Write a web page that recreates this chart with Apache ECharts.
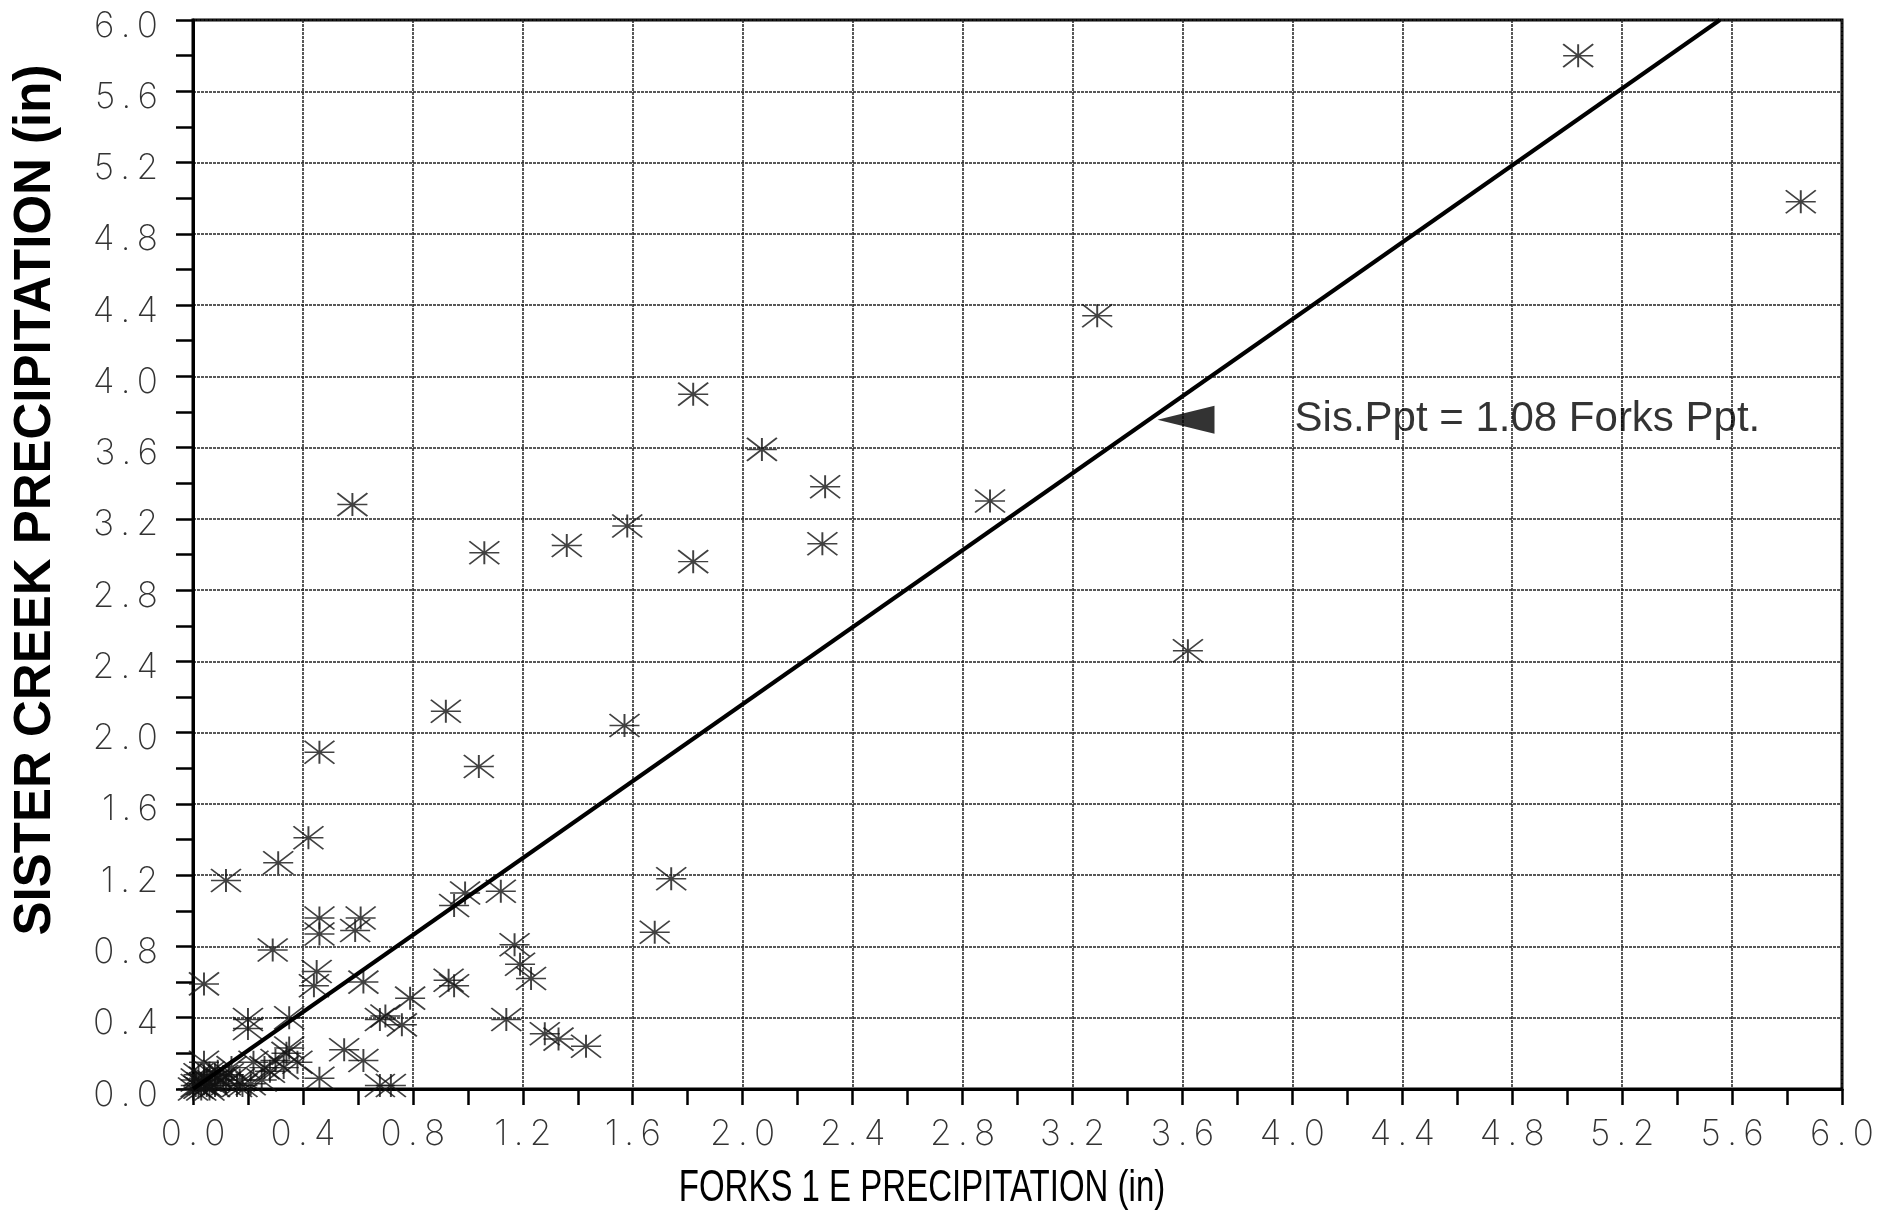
<!DOCTYPE html>
<html>
<head>
<meta charset="utf-8">
<title>Sister Creek vs Forks 1 E precipitation</title>
<script src="https://cdn.jsdelivr.net/npm/echarts@6/dist/echarts.min.js"></script>
<style>
  html, body { margin: 0; padding: 0; background: #ffffff; }
  #chart { width: 1896px; height: 1213px; }
</style>
</head>
<body>
<div id="chart"></div>
<script>
// Paired daily precipitation totals (inches): Forks 1 E (x) and Sister Creek (y)
const forksPpt = [
  5.04, 5.85, 3.29, 3.62, 2.90, 1.82, 2.07, 2.30, 2.29, 1.82,
  1.58, 1.36, 1.06, 0.58, 0.92, 1.04, 1.57, 0.46, 0.42, 0.31,
  0.12, 1.74, 1.68, 0.99, 0.95, 1.12, 0.46, 0.46, 0.61, 0.59,
  0.29, 1.17, 1.19, 1.23, 0.45, 0.44, 0.04, 0.62, 0.93, 0.95,
  0.79, 1.14, 0.70, 0.68, 0.76, 0.20, 0.20, 0.35, 1.28, 1.33,
  1.43, 0.55, 0.62, 0.35, 0.34, 0.30, 0.33, 0.46, 0.68, 0.72,
  0.21, 0.18, 0.25, 0.04, 0.28, 0.38,
  0.00, 0.02, 0.03, 0.05, 0.04, 0.07, 0.08, 0.10, 0.12, 0.01,
  0.06, 0.09, 0.13, 0.16, 0.14, 0.22, 0.26, 0.17,
  0.01, 0.03, 0.05, 0.02, 0.08, 0.11, 0.06, 0.04
];
const sisterPpt = [
  5.80, 4.98, 4.34, 2.46, 3.30, 3.90, 3.59, 3.38, 3.06, 2.96,
  3.16, 3.05, 3.01, 3.28, 2.12, 1.81, 2.04, 1.89, 1.41, 1.27,
  1.17, 1.18, 0.88, 1.10, 1.03, 1.11, 0.96, 0.87, 0.96, 0.89,
  0.78, 0.81, 0.70, 0.62, 0.66, 0.58, 0.59, 0.60, 0.61, 0.58,
  0.51, 0.39, 0.41, 0.39, 0.36, 0.39, 0.34, 0.40, 0.31, 0.28,
  0.24, 0.22, 0.16, 0.23, 0.20, 0.16, 0.12, 0.06, 0.02, 0.02,
  0.03, 0.02, 0.05, 0.15, 0.10, 0.15,
  0.00, 0.01, 0.03, 0.02, 0.06, 0.04, 0.08, 0.05, 0.03, 0.05,
  0.00, 0.10, 0.08, 0.02, 0.12, 0.15, 0.12, 0.05,
  0.02, 0.00, 0.05, 0.08, 0.02, 0.07, 0.09, 0.03
];

// Fitted relation through the origin
const slope = 1.08;
const noteText = 'Sis.Ppt = 1.08 Forks Ppt.';
const arrowPoint = [3.613, 3.757];
const notePoint = [4.008, 3.757];

// Axis range and tick spacing (same for both axes)
const axisMin = 0;
const axisMax = 6;
const tickStep = 0.4;

const xTitle = 'FORKS 1 E PRECIPITATION (in)';
const yTitle = 'SISTER CREEK PRECIPITATION (in)';

const points = forksPpt.map((x, i) => [x, sisterPpt[i]]);
const fitLine = [[axisMin, slope * axisMin], [axisMax / slope, axisMax]];

// Eight-armed asterisk drawn as open strokes
const asterisk = 'path://M0,50L100,50M50,0L50,100M0,0L100,100M100,0L0,100';

const spaced = v => v.toFixed(1).split('').join('\u2009');

const tickFont = {
  fontFamily: 'Inter, "DejaVu Sans", sans-serif',
  fontWeight: 200,
  fontSize: 35,
  color: '#333'
};

const gridLine = { color: '#222', width: 1.5, type: [3, 1] };

const chart = echarts.init(document.getElementById('chart'), null, { renderer: 'canvas' });

chart.setOption({
  animation: false,
  backgroundColor: '#ffffff',
  grid: {
    left: 193, top: 20, width: 1649, height: 1069,
    show: true, borderColor: '#000', borderWidth: 3, backgroundColor: 'transparent'
  },
  xAxis: {
    type: 'value', min: axisMin, max: axisMax, interval: tickStep,
    axisLine: { show: true, onZero: false, lineStyle: { color: '#000', width: 3 } },
    axisTick: { show: true, inside: false, length: 16, lineStyle: { color: '#000', width: 2.5 } },
    minorTick: { show: true, splitNumber: 2, length: 16, lineStyle: { color: '#000', width: 2.5 } },
    splitLine: { show: true, lineStyle: gridLine },
    axisLabel: Object.assign({ margin: 28, formatter: spaced }, tickFont)
  },
  yAxis: {
    type: 'value', min: axisMin, max: axisMax, interval: tickStep,
    axisLine: { show: true, onZero: false, lineStyle: { color: '#000', width: 3 } },
    axisTick: { show: true, inside: false, length: 17, lineStyle: { color: '#000', width: 2.5 } },
    minorTick: { show: true, splitNumber: 2, length: 17, lineStyle: { color: '#000', width: 2.5 } },
    splitLine: { show: true, lineStyle: gridLine },
    axisLabel: Object.assign({ margin: 35, lineHeight: 44, verticalAlign: 'top', padding: [-16, 0, 0, 0], formatter: spaced }, tickFont)
  },
  series: [
    {
      name: 'observations',
      type: 'scatter',
      data: points,
      symbol: asterisk,
      symbolSize: [30, 23],
      itemStyle: { color: 'transparent', borderColor: '#111', borderWidth: 1.7 },
      z: 3
    },
    {
      name: 'fit',
      type: 'line',
      data: fitLine,
      symbol: 'none',
      lineStyle: { color: '#000', width: 4 },
      z: 4
    },
    {
      name: 'arrow',
      type: 'scatter',
      data: [arrowPoint],
      symbol: 'triangle',
      symbolRotate: 90,
      symbolSize: [28, 57],
      itemStyle: { color: '#000' },
      z: 5
    },
    {
      name: 'note',
      type: 'scatter',
      data: [notePoint],
      symbolSize: 0,
      label: {
        show: true, position: 'right', distance: 0,
        formatter: noteText,
        fontFamily: '"Liberation Sans", Arial, sans-serif',
        fontSize: 42, color: '#000'
      },
      z: 5
    }
  ],
  graphic: [
    {
      type: 'text',
      x: 922, y: 1189,
      scaleX: 0.75,
      style: {
        text: xTitle,
        fontFamily: '"Liberation Sans", Arial, sans-serif',
        fontSize: 44,
        fill: '#000',
        textAlign: 'center',
        textVerticalAlign: 'middle'
      }
    },
    {
      type: 'text',
      x: 36, y: 500,
      rotation: Math.PI / 2,
      style: {
        text: yTitle,
        fontFamily: '"Liberation Sans", Arial, sans-serif',
        fontWeight: 'bold',
        fontSize: 51,
        fill: '#000',
        textAlign: 'center',
        textVerticalAlign: 'middle'
      }
    }
  ]
});
</script>
</body>
</html>
